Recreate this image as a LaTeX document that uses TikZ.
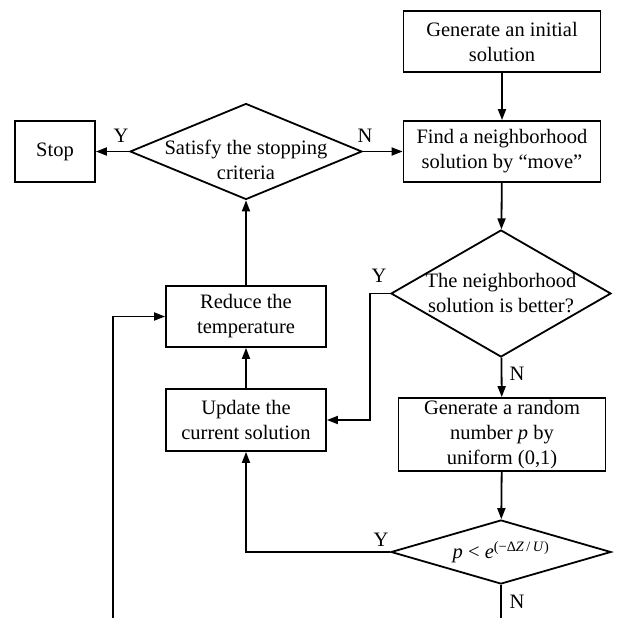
\documentclass[tikz,border=0pt]{standalone}
\usepackage{fontspec}
\setmainfont{Liberation Serif}
\usetikzlibrary{arrows.meta,positioning,shapes.geometric}

\begin{document}
\begin{tikzpicture}[x=1pt, y=-1pt, font=\fontsize{20.5}{25}\selectfont,
  box/.style={draw, line width=1.8pt, align=center, inner sep=0pt, minimum height=61pt},
  decision/.style={draw, diamond, line width=1.8pt, inner sep=0pt},
  link/.style={line width=1.8pt},
  arrow/.style={link, -{Triangle[length=11pt,width=8pt]}}]
\useasboundingbox (0,0) rectangle (616,618);

\node[box, minimum width=197pt] (init) at (502,41.5) {Generate an initial\\solution};
\node[box, minimum width=197pt] (find) at (502,151.5) {Find a neighborhood\\solution by “move”};
\node[box, minimum width=80pt] (stop) at (55,151.5) {Stop};
\node[decision, minimum width=232pt, minimum height=96pt] (satisfy) at (246,151.5) {};
\node[align=center] (satisfytext) at ([yshift=-8pt]satisfy) {Satisfy the stopping\\criteria};
\node[decision, minimum width=220pt, minimum height=127pt] (better) at (501,293.5) {};
\node[align=center] (bettertext) at (better) {The neighborhood\\solution is better?};
\node[box, minimum width=160pt] (reduce) at (246,316.5) {Reduce the\\temperature};
\node[box, minimum width=160pt, minimum height=62pt] (update) at (246,420) {Update the\\current solution};
\node[box, minimum width=207pt, minimum height=73pt] (random) at (502,434.5) {Generate a random\\number \textit{p} by\\uniform (0,1)};
\node[decision, minimum width=220pt, minimum height=64pt] (accept) at (501,552) {};
\node (accepttext) at (accept) {\textit{p} < \textit{e}\textsuperscript{(−Δ\textit{Z}\,/\,\textit{U})}};

\coordinate (loopend) at (113,618);
\coordinate (nend) at (501,618);

\draw[arrow] (init) -- (find);
\draw[arrow] (satisfy.west) -- (stop.east);
\draw[arrow] (satisfy.east) -- (find.west);
\draw[arrow] (find) -- (better);
\draw[arrow] (better) -- (random);
\draw[arrow] (random) -- (accept);
\draw[link] (accept) -- (nend);
\draw[arrow] (better.west) -- ++(-20,0) |- (update.east);
\draw[arrow] (accept.west) -| (update.south);
\draw[arrow] (update) -- (reduce);
\draw[arrow] (reduce) -- (satisfy);
\draw[arrow] (loopend) |- (reduce.west);

\node (ystop) at (121,136) {Y};
\node (nfind) at (365,136) {N};
\node (ybetter) at (379,276) {Y};
\node (nbetter) at (517,374) {N};
\node (yaccept) at (381,540) {Y};
\node (naccept) at (517,602) {N};
\end{tikzpicture}
\end{document}
